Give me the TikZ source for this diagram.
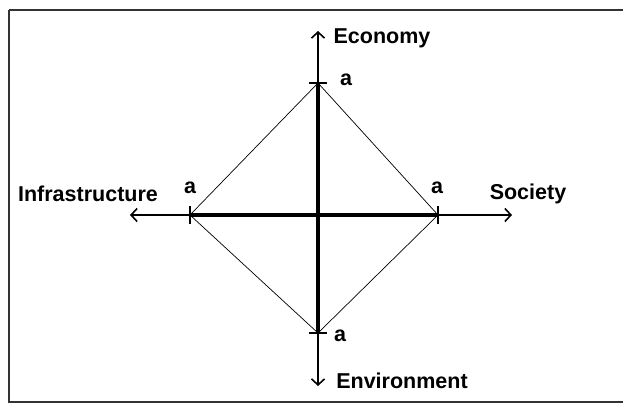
\documentclass[tikz,border=0pt]{standalone}
\usepackage{fontspec}
\setmainfont{Liberation Sans}
\usetikzlibrary{arrows.meta,positioning,calc}

\begin{document}
\begin{tikzpicture}[x=1pt, y=-1pt, >={Straight Barb[length=6pt,width=13pt]},
	   lbl/.style={font=\fontsize{21.5}{24}\selectfont\bfseries, inner sep=0pt},
	   axis/.style={->, line width=1.6pt},
	   side/.style={line width=0.7pt},
	   tick/.style={line width=1.1pt}]
	  \useasboundingbox (0,0) rectangle (623,406);
	  \draw[line width=1.5pt, black!80] (9,10) -- (625,10) (9,10) -- (9,402) -- (625,402);
	  % centre and axis ends
	  \coordinate (o) at (318,215);
	  \coordinate (eN) at (318,31);
	  \coordinate (eS) at (318,386);
	  \coordinate (eW) at (130,215);
	  \coordinate (eE) at (512,215);
	  \coordinate (pN) at (318,83);
	  \coordinate (pS) at (318,333);
	  \coordinate (pW) at (190,215);
	  \coordinate (pE) at (438,215);
	  \draw[axis] (o) -- (eN);
	  \draw[axis] (o) -- (eS);
	  \draw[axis] (o) -- (eW);
	  \draw[axis] (o) -- (eE);
	  \draw[line width=4.5pt] (pW) -- (pE);
	  \draw[line width=4.5pt] (pN) -- (pS);
	  \draw[side] (pN) -- (pE) -- (pS) -- (pW) -- cycle;
	  \draw[tick] ($(pN)+(-9,0)$) -- ($(pN)+(9,0)$);
	  \draw[tick] ($(pS)+(-9,0)$) -- ($(pS)+(9,0)$);
	  \draw[tick] ($(pW)+(0,-9)$) -- ($(pW)+(0,9)$);
	  \draw[tick] ($(pE)+(0,-9)$) -- ($(pE)+(0,9)$);
	  % labels
	  \node[lbl] (eco) at (382,38) {Economy};
	  \node[lbl] (soc) at (528,194) {Society};
	  \node[lbl] (inf) at (88,194) {Infrastructure};
	  \node[lbl] (env) at (402,381) {Environment};
	  \node[lbl] (aN) at (346,80) {a};
	  \node[lbl] (aE) at (437,188) {a};
	  \node[lbl] (aW) at (190,188) {a};
	  \node[lbl] (aS) at (340,336) {a};
	\end{tikzpicture}
\end{document}
